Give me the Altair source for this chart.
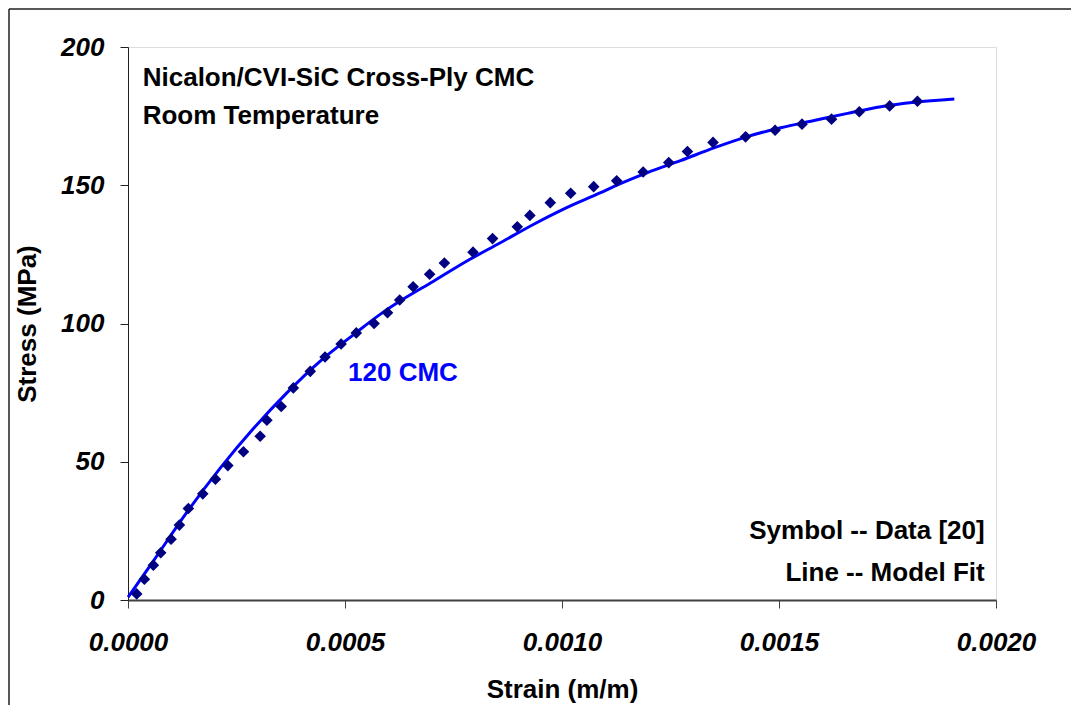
import altair as alt
import pandas as pd

# Data
data_strain = [0.0000200, 0.0000377, 0.0000584, 0.0000754, 0.0000992, 0.0001184, 0.0001391,
               0.0001723, 0.0002014, 0.000230, 0.000266, 0.0003045, 0.000320, 0.000353,
               0.000381, 0.000420, 0.000454, 0.000491, 0.000526, 0.000567, 0.000598,
               0.000626, 0.000657, 0.000695, 0.000729, 0.000795, 0.000840, 0.000897,
               0.000926, 0.000973, 0.001020, 0.001073, 0.001126, 0.001187, 0.001246,
               0.001289, 0.001348, 0.001423, 0.001491, 0.001553, 0.001621, 0.001685,
               0.001755, 0.001819]
data_stress = [2.2, 7.5, 12.6, 17.1, 22.0, 27.1, 33.1,
               38.4, 43.7, 48.6, 53.6, 59.2, 65.0, 70.0,
               76.7, 82.7, 87.9, 92.6, 96.6, 100.0, 103.9,
               108.5, 113.3, 117.8, 121.9, 125.8, 130.7, 135.0,
               139.1, 143.7, 147.1, 149.5, 151.6, 154.8, 158.2,
               162.2, 165.5, 167.5, 169.9, 172.1, 173.9, 176.6,
               178.7, 180.4]

fit_strain = [0.0, 0.000058, 0.000135, 0.000212, 0.000289, 0.000366, 0.000443, 0.000520,
              0.000581, 0.000627, 0.000704, 0.000781, 0.000858, 0.000935, 0.001012,
              0.001089, 0.001120, 0.001197, 0.001273, 0.001350, 0.001427, 0.001504,
              0.001581, 0.001658, 0.001735, 0.001812, 0.001904]
fit_stress = [1.0, 14.0, 31.6, 47.6, 62.0, 74.9, 86.4, 96.0,
              103.3, 108.1, 115.3, 122.6, 129.2, 135.9, 142.0,
              147.3, 149.6, 154.6, 158.9, 163.5, 167.6, 170.8,
              173.4, 176.0, 178.4, 180.0, 181.2]

x_ticks = [0.0, 0.0005, 0.0010, 0.0015, 0.0020]
y_ticks = [0, 50, 100, 150, 200]

notes_text = ["Nicalon/CVI-SiC Cross-Ply CMC", "Room Temperature"]
notes_x = [0.0000339, 0.0000339]
notes_y = [185.9, 172.3]

legend_text = ["Symbol -- Data [20]", "Line -- Model Fit"]
legend_x = [0.001974, 0.001974]
legend_y = [21.9, 7.0]

label_text = ["120 CMC"]
label_x = [0.000507]
label_y = [79.2]

FONT = "Liberation Sans"
FS = 26
W, H = 868, 553

pts = pd.DataFrame({"strain": data_strain, "stress": data_stress})
fit = pd.DataFrame({"strain": fit_strain, "stress": fit_stress})
notes = pd.DataFrame({"t": notes_text, "x": notes_x, "y": notes_y})
legend = pd.DataFrame({"t": legend_text, "x": legend_x, "y": legend_y})
lab = pd.DataFrame({"t": label_text, "x": label_x, "y": label_y})
dummy = pd.DataFrame({"a": [0]})

xscale = alt.Scale(domain=[0, 0.002], nice=False, zero=False)
yscale = alt.Scale(domain=[0, 200], nice=False)

xaxis = alt.Axis(
    title="Strain (m/m)", values=x_ticks, format=".4f", grid=False,
    labelFont=FONT, labelFontSize=FS, labelFontStyle="italic", labelFontWeight="bold",
    labelColor="black", labelPadding=21, labelFlush=False, labelOverlap=False,
    tickSize=8, tickColor="#404040", domainColor="#404040", domainWidth=2,
    titleFont=FONT, titleFontSize=FS, titleFontWeight="bold", titleColor="black",
    titleX=W / 2, titleY=97, titleBaseline="alphabetic", titleAlign="center",
)
yaxis = alt.Axis(
    title="Stress (MPa)", values=y_ticks, format="d", grid=False,
    labelFont=FONT, labelFontSize=FS, labelFontStyle="italic", labelFontWeight="bold",
    labelColor="black", labelPadding=16, labelFlush=False, labelOverlap=False,
    tickSize=8, tickColor="#202020", domainColor="#202020", domainWidth=1,
    titleFont=FONT, titleFontSize=FS, titleFontWeight="bold", titleColor="black",
    titleX=-93, titleY=H / 2, titleBaseline="alphabetic", titleAlign="center", titleAngle=270,
)

line = alt.Chart(fit).mark_line(color="#0000FF", strokeWidth=3, interpolate="monotone").encode(
    x=alt.X("strain:Q", scale=xscale, axis=xaxis),
    y=alt.Y("stress:Q", scale=yscale, axis=yaxis),
    order="strain:Q",
)
points = alt.Chart(pts).mark_point(shape="diamond", filled=True, size=135,
                                   color="#000080", opacity=1).encode(
    x=alt.X("strain:Q", scale=xscale),
    y=alt.Y("stress:Q", scale=yscale),
)
notes_layer = alt.Chart(notes).mark_text(
    font=FONT, fontSize=FS, fontWeight="bold", color="black", align="left", baseline="alphabetic"
).encode(x=alt.X("x:Q", scale=xscale), y=alt.Y("y:Q", scale=yscale), text="t:N")
legend_layer = alt.Chart(legend).mark_text(
    font=FONT, fontSize=FS, fontWeight="bold", color="black", align="right", baseline="alphabetic"
).encode(x=alt.X("x:Q", scale=xscale), y=alt.Y("y:Q", scale=yscale), text="t:N")
lab_layer = alt.Chart(lab).mark_text(
    font=FONT, fontSize=FS, fontWeight="bold", color="#0000FF", align="left", baseline="alphabetic"
).encode(x=alt.X("x:Q", scale=xscale), y=alt.Y("y:Q", scale=yscale), text="t:N")

# outer frame of the figure (top and left edges visible in the reference)
frame_top = alt.Chart(dummy).mark_rule(color="#202020", strokeWidth=1.5).encode(
    x=alt.value(-119), x2=alt.value(W + 80), y=alt.value(-38))
frame_left = alt.Chart(dummy).mark_rule(color="#202020", strokeWidth=1.5).encode(
    x=alt.value(-119), y=alt.value(-38), y2=alt.value(H + 110))

chart = alt.layer(frame_top, frame_left, line, points, notes_layer, legend_layer, lab_layer).properties(
    width=W, height=H,
    autosize=alt.AutoSizeParams(type="none"),
    padding={"left": 120, "top": 39, "right": 75, "bottom": 105},
).configure_view(stroke="#808080", strokeWidth=1).configure(background="white")

chart.save("out.html", embed_options={"renderer": "svg", "actions": False})
